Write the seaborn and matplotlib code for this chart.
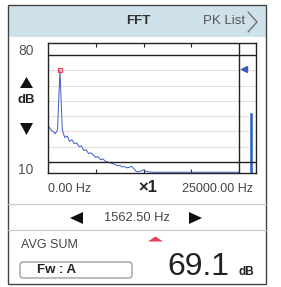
import numpy as np
import pandas as pd
import seaborn as sns
import matplotlib.pyplot as plt
from matplotlib.patches import Rectangle, FancyBboxPatch, Polygon

sns.set_style("white")
plt.rcParams['font.family'] = ['Liberation Sans', 'DejaVu Sans']

# spectrum, 312.5 Hz per bin from 0 to 25000 Hz
bin_width = 312.5
level_db = [34, 31.5, 30, 28.5, 31, 70, 31, 26, 27, 23.5,
            24.5, 22, 22.5, 20, 20.5, 17.5, 18, 15.5, 16, 14.5,
            13, 13.5, 11.5, 12, 10.5, 10, 9.5, 9, 8.5, 7.5,
            7.8, 6.8, 7, 6.2, 6.5, 7.2, 5.5, 3.8, 3.5, 4.2,
            4.8, 4, 3.5, 3.4, 3.3, 3.3, 3.3, 3.3, 3.3, 3.3,
            3.3, 3.3, 3.3, 3.3, 3.3, 3.3, 3.3, 3.3, 3.3, 3.3,
            3.3, 3.3, 3.3, 3.3, 3.3, 3.3, 3.3, 3.3, 3.3, 3.3,
            3.3, 3.3, 3.3, 3.3, 3.3, 3.3, 3.3, 3.3, 3.3, 3.3, 3.3]
freq_hz = np.arange(len(level_db)) * bin_width

peak_hz = 1562.5
peak_db = 70
overall_db = 42.7
overall_hz = 26570
mark_db = 70.8
db_ticks = [10, 20, 30, 40, 50, 60, 70, 80]
freq_ticks = [6250, 12500, 18750]

W, H = 281, 287
fig = plt.figure(figsize=(W / 100, H / 100), dpi=100)


def fx(x):
    return x / W


def fy(y):
    return 1 - y / H


def txt(x, y, s, **kw):
    kw.setdefault("ha", "center")
    kw.setdefault("va", "center")
    fig.text(fx(x), fy(y), s, **kw)


def tri(pts, color):
    fig.patches.append(Polygon([(fx(a), fy(b)) for a, b in pts], closed=True,
                               transform=fig.transFigure, facecolor=color, edgecolor="none"))


# frame and header
fig.patches.append(Rectangle((fx(8), fy(37)), fx(258), 32 / H, transform=fig.transFigure,
                             facecolor="#cfe1ea", edgecolor="none", zorder=0))
fig.patches.append(Rectangle((fx(8), fy(284)), fx(258), 279 / H, transform=fig.transFigure,
                             facecolor="none", edgecolor="#444444", lw=1.0, zorder=1))
for yy in [204, 230]:
    fig.lines.append(plt.Line2D([fx(8), fx(266)], [fy(yy), fy(yy)], transform=fig.transFigure,
                                color="#c8c8c8", lw=0.8))

txt(138, 21, "FFT", fontsize=9.5, weight="bold", color="#333333")
txt(224, 21, "PK List", fontsize=9.5, color="#555555")
fig.lines.append(plt.Line2D([fx(248), fx(257), fx(248)], [fy(12), fy(22), fy(32)],
                            transform=fig.transFigure, color="#666666", lw=0.9))

# spectrum axes
ax = fig.add_axes([fx(48), fy(173), fx(208), 130 / H])
data = pd.DataFrame({"freq": freq_hz, "db": level_db})
sns.lineplot(data=data, x="freq", y="db", ax=ax, color="#3a5cc4", lw=0.7)
ax.bar([overall_hz], [overall_db], width=520, bottom=0, color="#2f62c8")
ax.plot([peak_hz], [peak_db], marker="s", ms=3.5, mfc="none", mec="#e0405a", mew=0.9)
ax.plot([25650], [mark_db], marker="<", ms=4, color="#4056c0")

ax.set_xlim(0, 27225)
ax.set_ylim(2.8, 87.8)
ax.set_yticks(db_ticks)
ax.grid(axis="y", color="#eddcdc", lw=0.8)
ax.axhline(80, color="#222222", lw=1.0)
ax.axhline(10, color="#222222", lw=1.0)
ax.axvline(25000, color="#222222", lw=1.0)
ax.set_xticks(freq_ticks)
ax.tick_params(axis="x", direction="in", length=3, width=0.8, top=True, bottom=True,
               labelbottom=False)
ax.tick_params(axis="y", length=0, labelleft=False)
ax.set_xlabel("")
ax.set_ylabel("")
for s in ax.spines.values():
    s.set_color("#222222")
    s.set_linewidth(1.0)

# left scale labels
txt(26, 51, "80", fontsize=10, color="#555555")
tri([(20, 88), (33, 88), (26.5, 77)], "#111111")
txt(26, 100, "dB", fontsize=9.5, weight="bold", color="#222222")
tri([(20, 123), (33, 123), (26.5, 135)], "#111111")
txt(26, 170, "10", fontsize=10, color="#555555")

# frequency range row
txt(70, 189, "0.00 Hz", fontsize=9, color="#444444")
txt(148, 188, "×1", fontsize=12, weight="bold", color="#222222")
txt(218, 189, "25000.00 Hz", fontsize=9, color="#444444")

# cursor row
tri([(83, 212), (83, 224), (70, 218)], "#111111")
txt(137, 218, "1562.50 Hz", fontsize=9.3, color="#444444")
tri([(189, 212), (189, 224), (202, 218)], "#111111")
tri([(148, 241.5), (163, 241.5), (155.5, 236.5)], "#e0405a")

# level row
txt(21, 245, "AVG SUM", fontsize=9, color="#444444", ha="left")
fig.patches.append(FancyBboxPatch((fx(20), fy(278)), fx(112), 16 / H, transform=fig.transFigure,
                                  boxstyle="round,pad=0,rounding_size=0.01",
                                  facecolor="white", edgecolor="#888888", lw=0.8))
txt(57, 270, "Fw : A", fontsize=9.5, weight="bold", color="#222222")
txt(198, 267, "69.1", fontsize=23, color="#222222")
txt(246, 272, "dB", fontsize=8.5, weight="bold", color="#222222")

fig.savefig("out.png", dpi=100)
